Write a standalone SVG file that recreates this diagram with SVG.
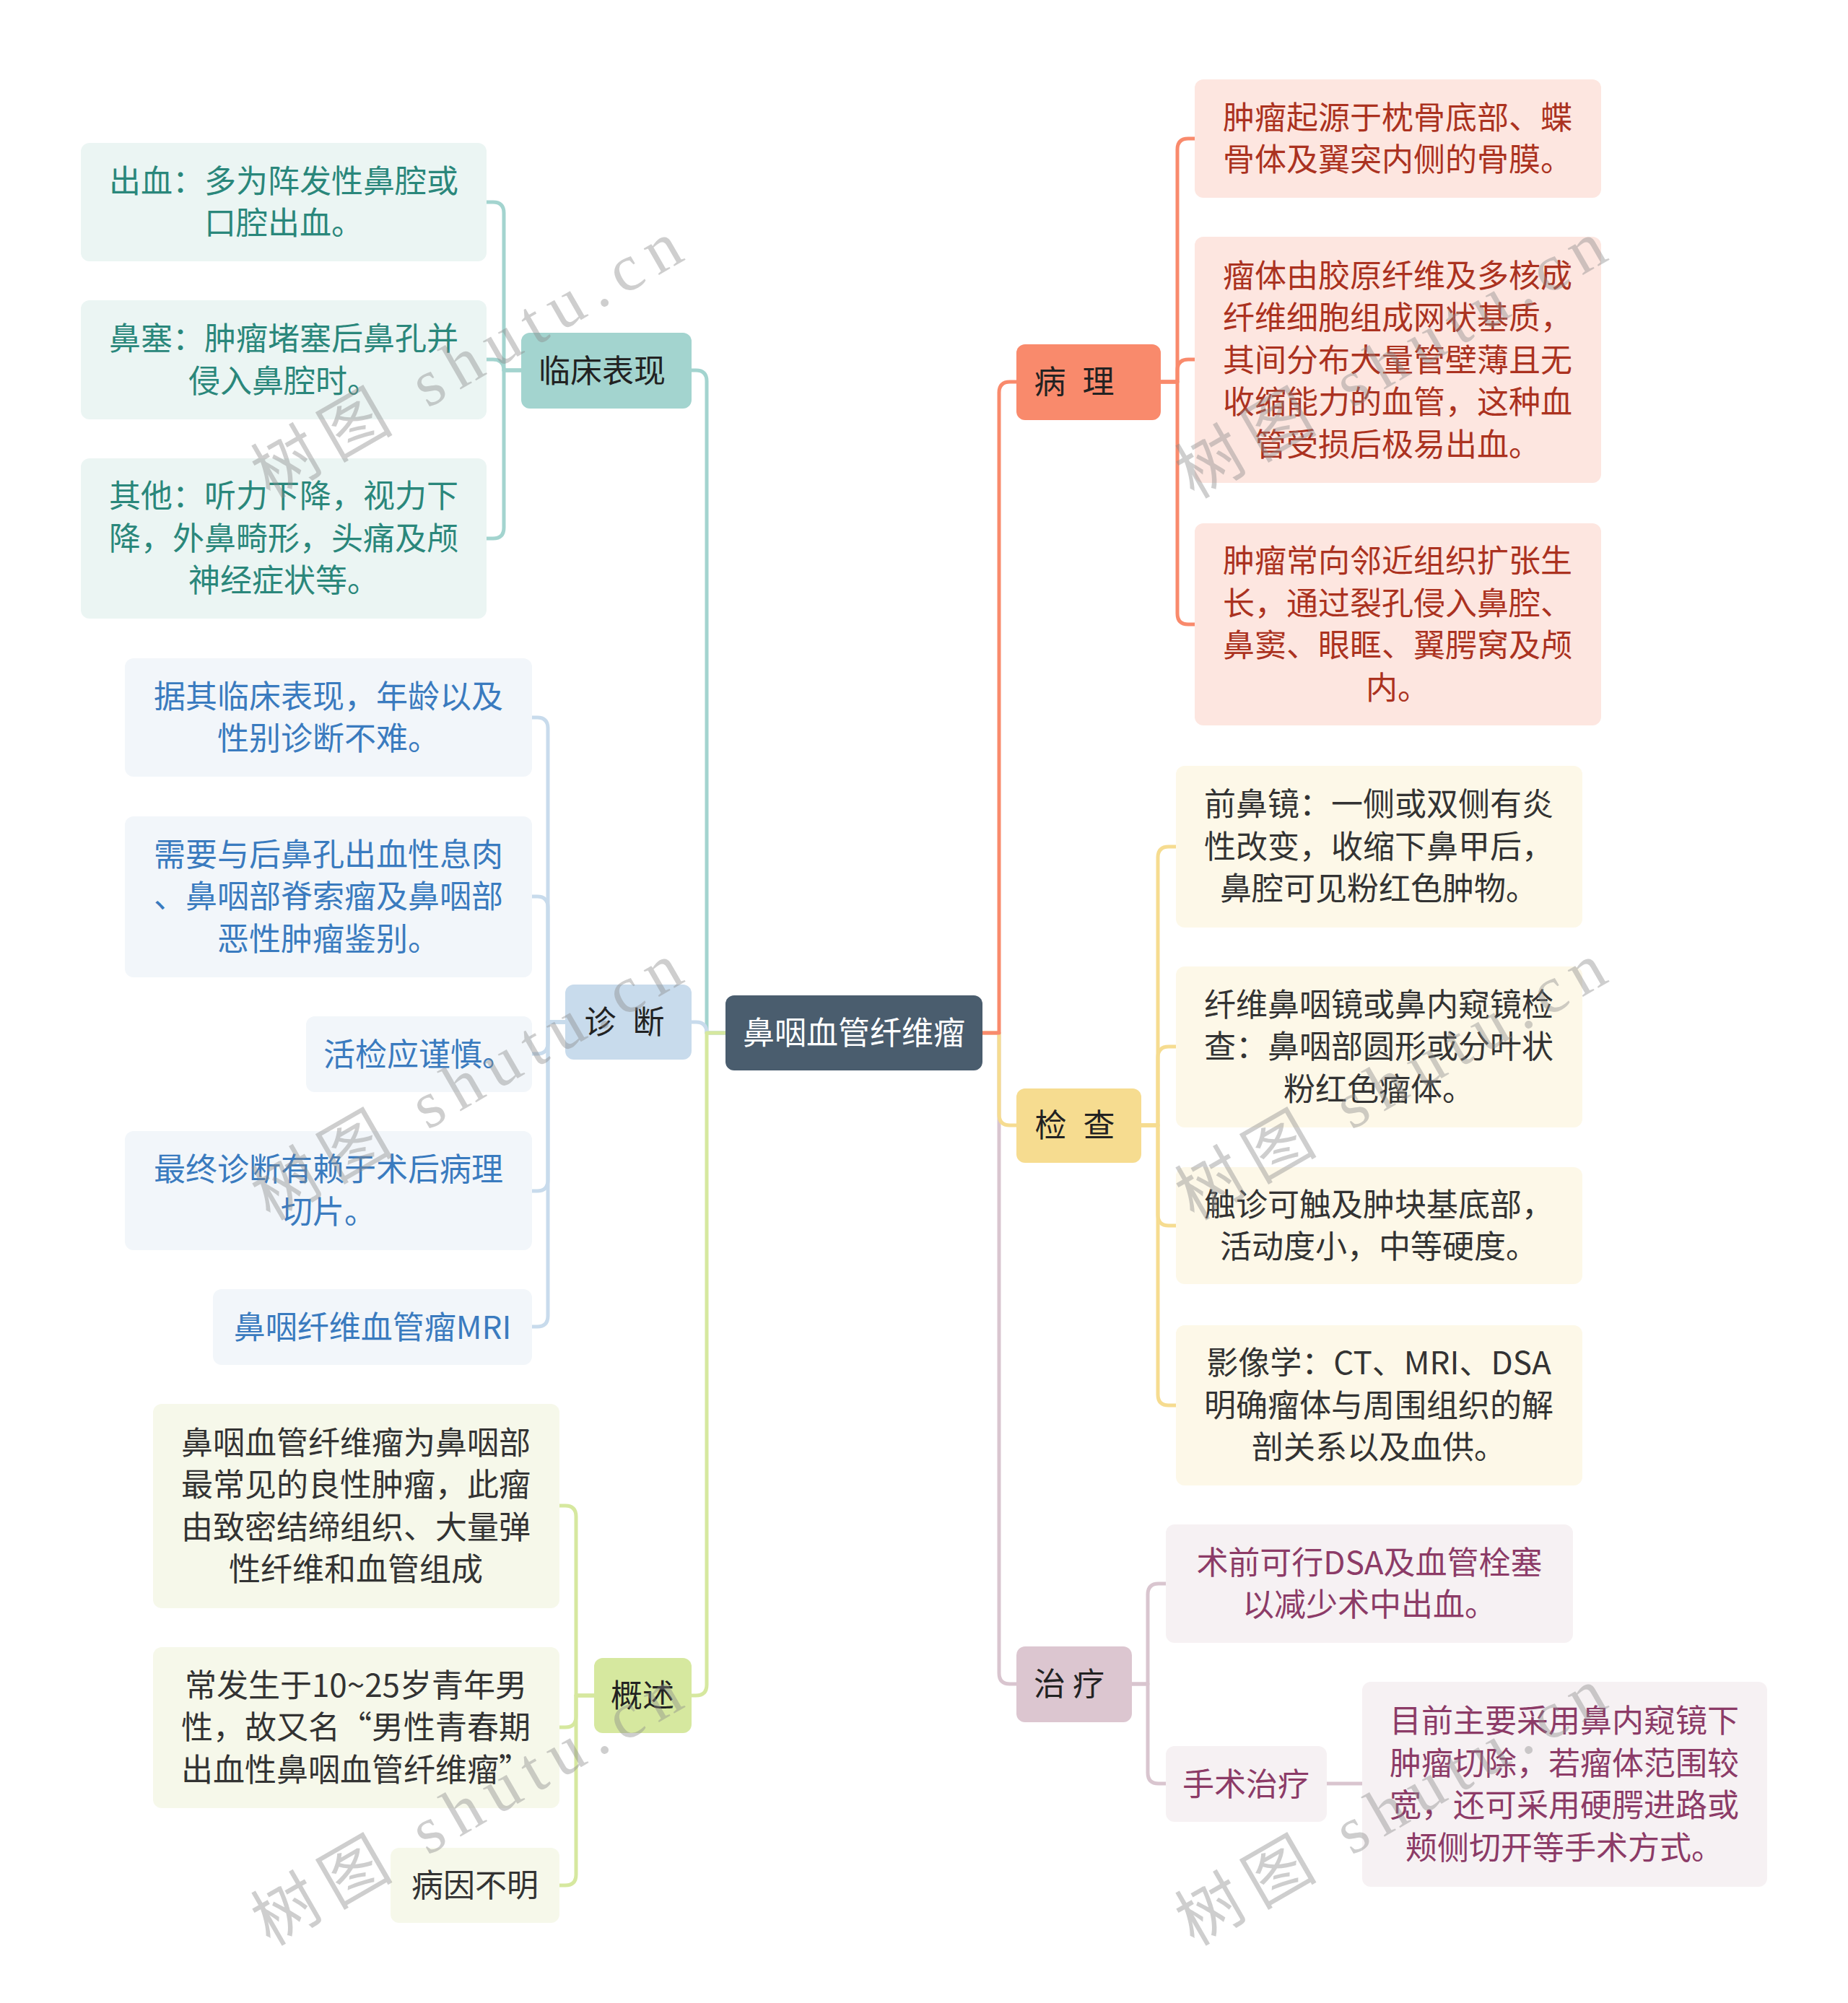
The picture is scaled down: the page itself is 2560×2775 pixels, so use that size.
<svg xmlns="http://www.w3.org/2000/svg" width="2560" height="2775" viewBox="0 0 2560 2775">
<style>
text{font-family:"Noto Sans CJK SC","Noto Sans",sans-serif;font-size:44px;}
.c{text-anchor:middle;}
.m{fill:#222;text-anchor:middle;}
.sp{word-spacing:13px;}
.teal{fill:#2a877b}.blue{fill:#3a7bbf}.dark{fill:#333}.red{fill:#ab3220}.plum{fill:#8c3b67}
.con path{fill:none;stroke-width:5;stroke-linecap:round;stroke-linejoin:round;}
#watermark text{font-family:"Liberation Serif","Noto Sans CJK SC",serif;font-size:92px;fill:#8a8a8a;fill-opacity:0.42;letter-spacing:15px;}
</style>
<rect width="2560" height="2775" fill="#ffffff"/>

<g id="connectors" class="con">
  <g stroke="#a3d4cf">
    <path d="M1005,1431 H979 V528 Q979,513 964,513 H957"/>
    <path d="M722,513 H698 V295 Q698,280 683,280 H674"/>
    <path d="M722,513 H698 Q698,498 683,498 H674"/>
    <path d="M722,513 H698 V731 Q698,746 683,746 H674"/>
  </g>
  <g stroke="#c8dbec">
    <path d="M1005,1431 H979 Q979,1416 964,1416 H958"/>
    <path d="M783,1416 H759 V1009 Q759,994 744,994 H737"/>
    <path d="M783,1416 H759 V1257 Q759,1242 744,1242 H737"/>
    <path d="M783,1416 H759 V1445 Q759,1460 744,1460 H737"/>
    <path d="M783,1416 H759 V1635 Q759,1650 744,1650 H737"/>
    <path d="M783,1416 H759 V1823 Q759,1838 744,1838 H737"/>
  </g>
  <g stroke="#d6e89f">
    <path d="M1005,1431 H979 V2334 Q979,2349 964,2349 H958"/>
    <path d="M823,2349 H798 V2101 Q798,2086 783,2086 H775"/>
    <path d="M823,2349 H798 V2378 Q798,2393 783,2393 H775"/>
    <path d="M823,2349 H798 V2597 Q798,2612 783,2612 H775"/>
  </g>
  <g stroke="#d9c5cf">
    <path d="M1361,1431 H1384 V2318 Q1384,2333 1399,2333 H1408"/>
    <path d="M1568,2333 H1590 V2209 Q1590,2194 1605,2194 H1615"/>
    <path d="M1568,2333 H1590 V2456 Q1590,2471 1605,2471 H1615"/>
    <path d="M1838,2471 H1887"/>
  </g>
  <g stroke="#f6dc90">
    <path d="M1361,1431 H1384 V1544 Q1384,1559 1399,1559 H1408"/>
    <path d="M1581,1559 H1604 V1188 Q1604,1173 1619,1173 H1629"/>
    <path d="M1581,1559 H1604 V1465 Q1604,1450 1619,1450 H1629"/>
    <path d="M1581,1559 H1604 V1683 Q1604,1698 1619,1698 H1629"/>
    <path d="M1581,1559 H1604 V1932 Q1604,1947 1619,1947 H1629"/>
  </g>
  <g stroke="#f98a6c">
    <path d="M1361,1431 H1384 V544 Q1384,529 1399,529 H1408"/>
    <path d="M1608,529 H1631 V207 Q1631,192 1646,192 H1655"/>
    <path d="M1608,529 H1631 V513 Q1631,498 1646,498 H1655"/>
    <path d="M1608,529 H1631 V850 Q1631,865 1646,865 H1655"/>
  </g>
</g>

<g id="root">
  <rect x="1005" y="1379" width="356" height="104" rx="12" fill="#4a5d6e"/>
  <text x="1183" y="1447" class="c" fill="#ffffff">鼻咽血管纤维瘤</text>
</g>

<g id="linchuang">
  <rect x="722" y="461" width="236" height="105" rx="12" fill="#a3d4cf"/>
  <text x="834" y="530" class="m">临床表现</text>
</g>
<g id="lc1">
  <rect x="112" y="198" width="562" height="164" rx="12" fill="#ebf5f3"/>
  <text class="c teal"><tspan x="393" y="267">出血：多为阵发性鼻腔或</tspan><tspan x="393" y="325">口腔出血。</tspan></text>
</g>
<g id="lc2">
  <rect x="112" y="416" width="562" height="165" rx="12" fill="#ebf5f3"/>
  <text class="c teal"><tspan x="393" y="485">鼻塞：肿瘤堵塞后鼻孔并</tspan><tspan x="393" y="544">侵入鼻腔时。</tspan></text>
</g>
<g id="lc3">
  <rect x="112" y="635" width="562" height="222" rx="12" fill="#ebf5f3"/>
  <text class="c teal"><tspan x="393" y="703">其他：听力下降，视力下</tspan><tspan x="393" y="762">降，外鼻畸形，头痛及颅</tspan><tspan x="393" y="820">神经症状等。</tspan></text>
</g>

<g id="zhenduan">
  <rect x="783" y="1364" width="175" height="104" rx="12" fill="#c8dbec"/>
  <text x="865" y="1432" class="m sp">诊 断</text>
</g>
<g id="zd1">
  <rect x="173" y="912" width="564" height="164" rx="12" fill="#f2f6fa"/>
  <text class="c blue"><tspan x="455" y="981">据其临床表现，年龄以及</tspan><tspan x="455" y="1039">性别诊断不难。</tspan></text>
</g>
<g id="zd2">
  <rect x="173" y="1131" width="564" height="223" rx="12" fill="#f2f6fa"/>
  <text class="c blue"><tspan x="455" y="1200">需要与后鼻孔出血性息肉</tspan><tspan x="455" y="1258">、鼻咽部脊索瘤及鼻咽部</tspan><tspan x="455" y="1317">恶性肿瘤鉴别。</tspan></text>
</g>
<g id="zd3">
  <rect x="424" y="1408" width="313" height="105" rx="12" fill="#f2f6fa"/>
  <text x="580" y="1477" class="c blue">活检应谨慎。</text>
</g>
<g id="zd4">
  <rect x="173" y="1567" width="564" height="165" rx="12" fill="#f2f6fa"/>
  <text class="c blue"><tspan x="455" y="1636">最终诊断有赖于术后病理</tspan><tspan x="455" y="1695">切片。</tspan></text>
</g>
<g id="zd5">
  <rect x="295" y="1786" width="442" height="105" rx="12" fill="#f2f6fa"/>
  <text x="516" y="1855" class="c blue">鼻咽纤维血管瘤MRI</text>
</g>

<g id="gaishu">
  <rect x="823" y="2297" width="135" height="104" rx="12" fill="#d6e89f"/>
  <text x="890" y="2365" class="m">概述</text>
</g>
<g id="gs1">
  <rect x="212" y="1945" width="563" height="283" rx="12" fill="#f6f8ea"/>
  <text class="c dark"><tspan x="493" y="2015">鼻咽血管纤维瘤为鼻咽部</tspan><tspan x="493" y="2073">最常见的良性肿瘤，此瘤</tspan><tspan x="493" y="2132">由致密结缔组织、大量弹</tspan><tspan x="493" y="2190">性纤维和血管组成</tspan></text>
</g>
<g id="gs2">
  <rect x="212" y="2282" width="563" height="223" rx="12" fill="#f6f8ea"/>
  <text class="c dark"><tspan x="493" y="2351">常发生于10~25岁青年男</tspan><tspan x="493" y="2409">性，故又名“男性青春期</tspan><tspan x="493" y="2468">出血性鼻咽血管纤维瘤”</tspan></text>
</g>
<g id="gs3">
  <rect x="541" y="2560" width="234" height="104" rx="12" fill="#f6f8ea"/>
  <text x="658" y="2628" class="c dark">病因不明</text>
</g>

<g id="bingli">
  <rect x="1408" y="477" width="200" height="105" rx="12" fill="#f98a6c"/>
  <text x="1488" y="545" class="m sp">病 理</text>
</g>
<g id="bl1">
  <rect x="1655" y="110" width="563" height="164" rx="12" fill="#fde6e0"/>
  <text class="c red"><tspan x="1936" y="179">肿瘤起源于枕骨底部、蝶</tspan><tspan x="1936" y="237">骨体及翼突内侧的骨膜。</tspan></text>
</g>
<g id="bl2">
  <rect x="1655" y="328" width="563" height="341" rx="12" fill="#fde6e0"/>
  <text class="c red"><tspan x="1936" y="398">瘤体由胶原纤维及多核成</tspan><tspan x="1936" y="456">纤维细胞组成网状基质，</tspan><tspan x="1936" y="515">其间分布大量管壁薄且无</tspan><tspan x="1936" y="573">收缩能力的血管，这种血</tspan><tspan x="1936" y="632">管受损后极易出血。</tspan></text>
</g>
<g id="bl3">
  <rect x="1655" y="725" width="563" height="280" rx="12" fill="#fde6e0"/>
  <text class="c red"><tspan x="1936" y="793">肿瘤常向邻近组织扩张生</tspan><tspan x="1936" y="852">长，通过裂孔侵入鼻腔、</tspan><tspan x="1936" y="910">鼻窦、眼眶、翼腭窝及颅</tspan><tspan x="1936" y="969">内。</tspan></text>
</g>

<g id="jiancha">
  <rect x="1408" y="1508" width="173" height="103" rx="12" fill="#f6dc90"/>
  <text x="1489" y="1575" class="m sp">检 查</text>
</g>
<g id="jc1">
  <rect x="1629" y="1061" width="563" height="224" rx="12" fill="#fdf8e8"/>
  <text class="c dark"><tspan x="1910" y="1130">前鼻镜：一侧或双侧有炎</tspan><tspan x="1910" y="1189">性改变，收缩下鼻甲后，</tspan><tspan x="1910" y="1247">鼻腔可见粉红色肿物。</tspan></text>
</g>
<g id="jc2">
  <rect x="1629" y="1339" width="563" height="223" rx="12" fill="#fdf8e8"/>
  <text class="c dark"><tspan x="1910" y="1408">纤维鼻咽镜或鼻内窥镜检</tspan><tspan x="1910" y="1466">查：鼻咽部圆形或分叶状</tspan><tspan x="1910" y="1525">粉红色瘤体。</tspan></text>
</g>
<g id="jc3">
  <rect x="1629" y="1617" width="563" height="162" rx="12" fill="#fdf8e8"/>
  <text class="c dark"><tspan x="1910" y="1685">触诊可触及肿块基底部，</tspan><tspan x="1910" y="1743">活动度小，中等硬度。</tspan></text>
</g>
<g id="jc4">
  <rect x="1629" y="1836" width="563" height="222" rx="12" fill="#fdf8e8"/>
  <text class="c dark"><tspan x="1910" y="1904">影像学：CT、MRI、DSA</tspan><tspan x="1910" y="1963">明确瘤体与周围组织的解</tspan><tspan x="1910" y="2021">剖关系以及血供。</tspan></text>
</g>

<g id="zhiliao">
  <rect x="1408" y="2281" width="160" height="105" rx="12" fill="#dcc6d0"/>
  <text x="1481" y="2349" class="m">治 疗</text>
</g>
<g id="zl1">
  <rect x="1615" y="2112" width="564" height="164" rx="12" fill="#f6f1f3"/>
  <text class="c plum"><tspan x="1897" y="2181">术前可行DSA及血管栓塞</tspan><tspan x="1897" y="2239">以减少术中出血。</tspan></text>
</g>
<g id="zl2">
  <rect x="1615" y="2419" width="223" height="105" rx="12" fill="#f6f1f3"/>
  <text x="1726" y="2488" class="c plum">手术治疗</text>
</g>
<g id="zl3">
  <rect x="1887" y="2330" width="561" height="284" rx="12" fill="#f6f1f3"/>
  <text class="c plum"><tspan x="2167" y="2400">目前主要采用鼻内窥镜下</tspan><tspan x="2167" y="2459">肿瘤切除，若瘤体范围较</tspan><tspan x="2167" y="2517">宽，还可采用硬腭进路或</tspan><tspan x="2167" y="2576">颊侧切开等手术方式。</tspan></text>
</g>

<g id="watermark">
  <text transform="translate(374,692) rotate(-30)">树图 shutu.cn</text>
  <text transform="translate(374,1692) rotate(-30)">树图 shutu.cn</text>
  <text transform="translate(374,2697) rotate(-30)">树图 shutu.cn</text>
  <text transform="translate(1654,692) rotate(-30)">树图 shutu.cn</text>
  <text transform="translate(1654,1692) rotate(-30)">树图 shutu.cn</text>
  <text transform="translate(1654,2697) rotate(-30)">树图 shutu.cn</text>
</g>
</svg>
